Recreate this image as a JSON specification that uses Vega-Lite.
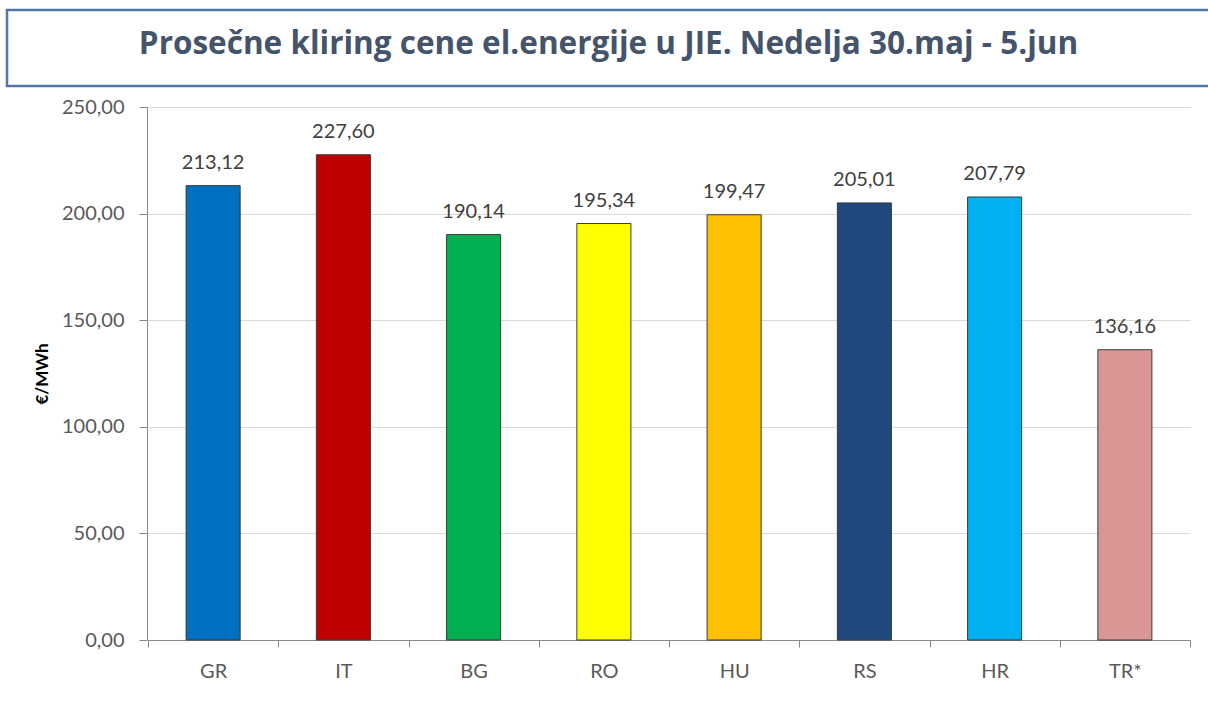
{
  "$schema": "https://vega.github.io/schema/vega-lite/v6.json",
  "padding": {"left": 5, "top": 8, "right": 0, "bottom": 0},
  "background": "white",
  "spacing": 9,
  "config": {
    "locale": {"number": {"decimal": ",", "thousands": ".", "grouping": [3], "currency": ["", " €"]}},
    "font": "Lato",
    "view": {"stroke": null}
  },
  "datasets": {
    "prices": [
      {"country": "GR", "price": 213.12},
      {"country": "IT", "price": 227.60},
      {"country": "BG", "price": 190.14},
      {"country": "RO", "price": 195.34},
      {"country": "HU", "price": 199.47},
      {"country": "RS", "price": 205.01},
      {"country": "HR", "price": 207.79},
      {"country": "TR*", "price": 136.16}
    ]
  },
  "vconcat": [
    {
      "width": 1203,
      "height": 76,
      "view": {"stroke": "#4f79a8", "strokeWidth": 2.5},
      "data": {"values": [{"t": "Prosečne kliring cene el.energije u JIE. Nedelja 30.maj - 5.jun"}]},
      "mark": {"type": "text", "font": "Open Sans", "fontWeight": "bold", "fontSize": 31.5, "color": "#44546a", "baseline": "middle", "align": "center", "dy": -3},
      "encoding": {"text": {"field": "t"}}
    },
    {
      "spacing": -4,
      "hconcat": [
        {
          "width": 140,
          "height": 533,
          "data": {"name": "prices"},
          "mark": {"type": "point", "opacity": 0},
          "encoding": {
            "y": {
              "field": "price", "type": "quantitative",
              "scale": {"domain": [0, 250], "nice": false},
              "axis": {
                "offset": -140, "grid": false,
                "title": "€/MWh", "titleFontSize": 17, "titleFontWeight": "bold", "titleColor": "#000000", "titlePadding": 10,
                "values": [0, 50, 100, 150, 200, 250], "format": ".2f",
                "labelFontSize": 20, "labelColor": "#595959", "labelPadding": 15,
                "tickSize": 8, "tickColor": "#888888", "domainColor": "#888888"
              }
            }
          }
        },
        {
          "width": 1042,
          "height": 533,
          "data": {"name": "prices"},
          "encoding": {
            "x": {
              "field": "country", "type": "nominal", "sort": null,
              "scale": {"paddingInner": 0, "paddingOuter": 0},
              "axis": {
                "title": null, "labelAngle": 0, "labelFontSize": 20, "labelColor": "#595959", "labelPadding": 14,
                "tickBand": "extent", "tickSize": 7, "tickColor": "#888888", "domainColor": "#888888", "grid": false
              }
            },
            "y": {
              "field": "price", "type": "quantitative",
              "scale": {"domain": [0, 250], "nice": false},
              "axis": {
                "title": null, "labels": false, "ticks": false, "domain": false,
                "values": [0, 50, 100, 150, 200, 250],
                "gridColor": "#d9d9d9", "gridWidth": 1
              }
            }
          },
          "layer": [
            {
              "mark": {"type": "bar", "width": {"band": 0.415}, "stroke": "#3a3a3a", "strokeWidth": 1},
              "encoding": {
                "color": {
                  "field": "country", "type": "nominal", "legend": null,
                  "scale": {
                    "domain": ["GR", "IT", "BG", "RO", "HU", "RS", "HR", "TR*"],
                    "range": ["#0070c0", "#c00000", "#00b050", "#ffff00", "#ffc000", "#1f497d", "#00b0f0", "#d99694"]
                  }
                }
              }
            },
            {
              "mark": {"type": "text", "baseline": "middle", "dy": -23, "fontSize": 20, "color": "#404040"},
              "encoding": {"text": {"field": "price", "type": "quantitative", "format": ".2f"}}
            }
          ]
        }
      ]
    }
  ]
}
